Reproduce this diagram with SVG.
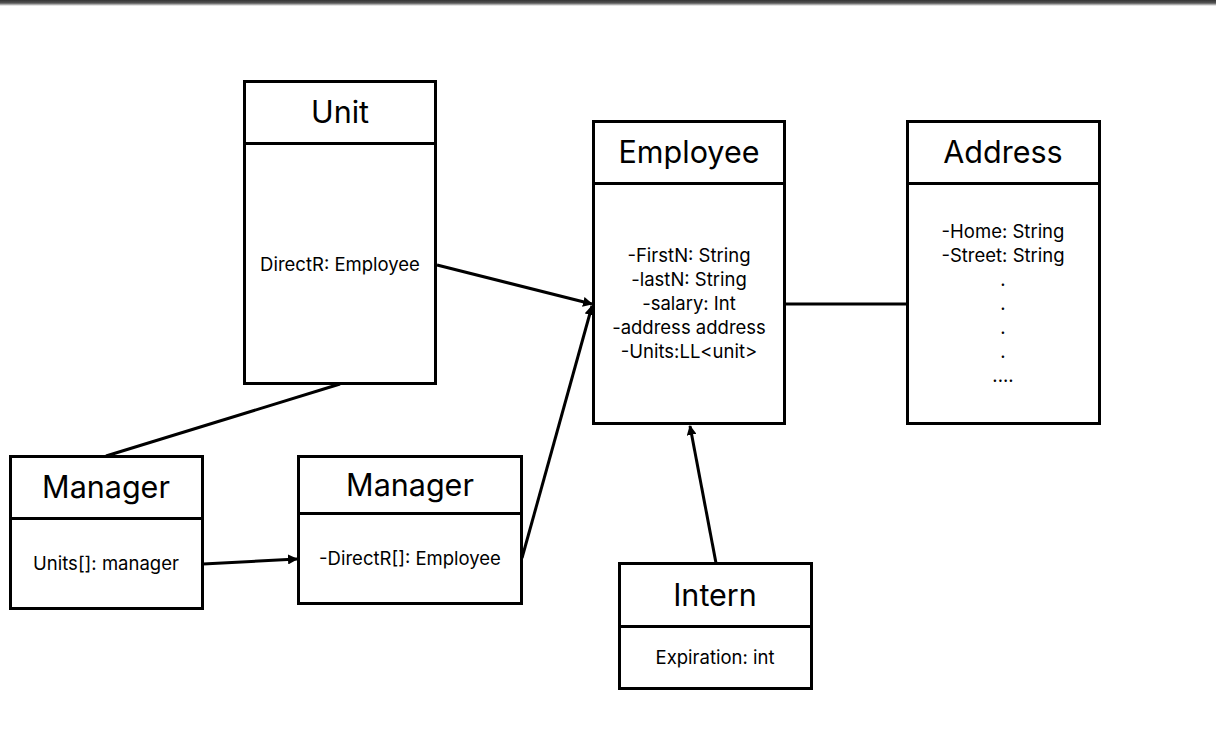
<svg xmlns="http://www.w3.org/2000/svg" width="1216" height="742" viewBox="0 0 1216 742">
<defs>
<linearGradient id="topband" x1="0" y1="0" x2="0" y2="1">
<stop offset="0" stop-color="#333"/>
<stop offset="0.5" stop-color="#555"/>
<stop offset="1" stop-color="#fff"/>
</linearGradient>
<marker id="arr" markerWidth="10" markerHeight="10" refX="9" refY="5" orient="auto" markerUnits="userSpaceOnUse">
<path d="M0,0 L10,5 L0,10 z" fill="#000"/>
</marker>
<style>
.box{fill:#fff;stroke:#000;stroke-width:3}
.div{stroke:#000;stroke-width:3}
.t{font-family:Inter,"Liberation Sans",sans-serif;font-size:30.5px;text-anchor:middle;fill:#000}
.b{font-family:Inter,"Liberation Sans",sans-serif;font-size:18.5px;text-anchor:middle;fill:#000}
.c{stroke:#000;stroke-width:3;fill:none}
</style>
</defs>
<rect width="1216" height="742" fill="#fff"/>
<rect x="0" y="0" width="1216" height="6" fill="url(#topband)"/>
<g id="connectors">
<line class="c" x1="437" y1="265" x2="592" y2="304" marker-end="url(#arr)"/>
<line class="c" x1="522" y1="558" x2="592" y2="306" marker-end="url(#arr)"/>
<line class="c" x1="785" y1="304" x2="907" y2="304"/>
<line class="c" x1="340" y1="384" x2="106" y2="456"/>
<line class="c" x1="203" y1="564" x2="297" y2="559" marker-end="url(#arr)"/>
<line class="c" x1="716" y1="563" x2="690" y2="426" marker-end="url(#arr)"/>
</g>
<g id="unit">
<rect class="box" x="244.5" y="81.5" width="191" height="302"/>
<line class="div" x1="244.5" y1="143.5" x2="435.5" y2="143.5"/>
<text class="t" x="340" y="123">Unit</text>
<text class="b" x="340" y="271">DirectR: Employee</text>
</g>
<g id="employee">
<rect class="box" x="593.5" y="121.5" width="191" height="302"/>
<line class="div" x1="593.5" y1="183.5" x2="784.5" y2="183.5"/>
<text class="t" x="689" y="163">Employee</text>
<text class="b" x="689" y="262">-FirstN: String</text>
<text class="b" x="689" y="286">-lastN: String</text>
<text class="b" x="689" y="310">-salary: Int</text>
<text class="b" x="689" y="334">-address address</text>
<text class="b" x="689" y="358">-Units:LL&lt;unit&gt;</text>
</g>
<g id="address">
<rect class="box" x="907.5" y="121.5" width="192" height="302"/>
<line class="div" x1="907.5" y1="183.5" x2="1099.5" y2="183.5"/>
<text class="t" x="1003" y="163">Address</text>
<text class="b" x="1003" y="238">-Home: String</text>
<text class="b" x="1003" y="262">-Street: String</text>
<text class="b" x="1003" y="286">.</text>
<text class="b" x="1003" y="310">.</text>
<text class="b" x="1003" y="334">.</text>
<text class="b" x="1003" y="358">.</text>
<text class="b" x="1003" y="382">....</text>
</g>
<g id="manager1">
<rect class="box" x="10.5" y="456.5" width="192" height="152"/>
<line class="div" x1="10.5" y1="518.5" x2="202.5" y2="518.5"/>
<text class="t" x="106" y="498">Manager</text>
<text class="b" x="106" y="570">Units[]: manager</text>
</g>
<g id="manager2">
<rect class="box" x="298.5" y="456.5" width="223" height="147"/>
<line class="div" x1="298.5" y1="513.5" x2="521.5" y2="513.5"/>
<text class="t" x="410" y="496">Manager</text>
<text class="b" x="410" y="565">-DirectR[]: Employee</text>
</g>
<g id="intern">
<rect class="box" x="619.5" y="563.5" width="192" height="125"/>
<line class="div" x1="619.5" y1="626.5" x2="811.5" y2="626.5"/>
<text class="t" x="715" y="606">Intern</text>
<text class="b" x="715" y="664">Expiration: int</text>
</g>
</svg>
